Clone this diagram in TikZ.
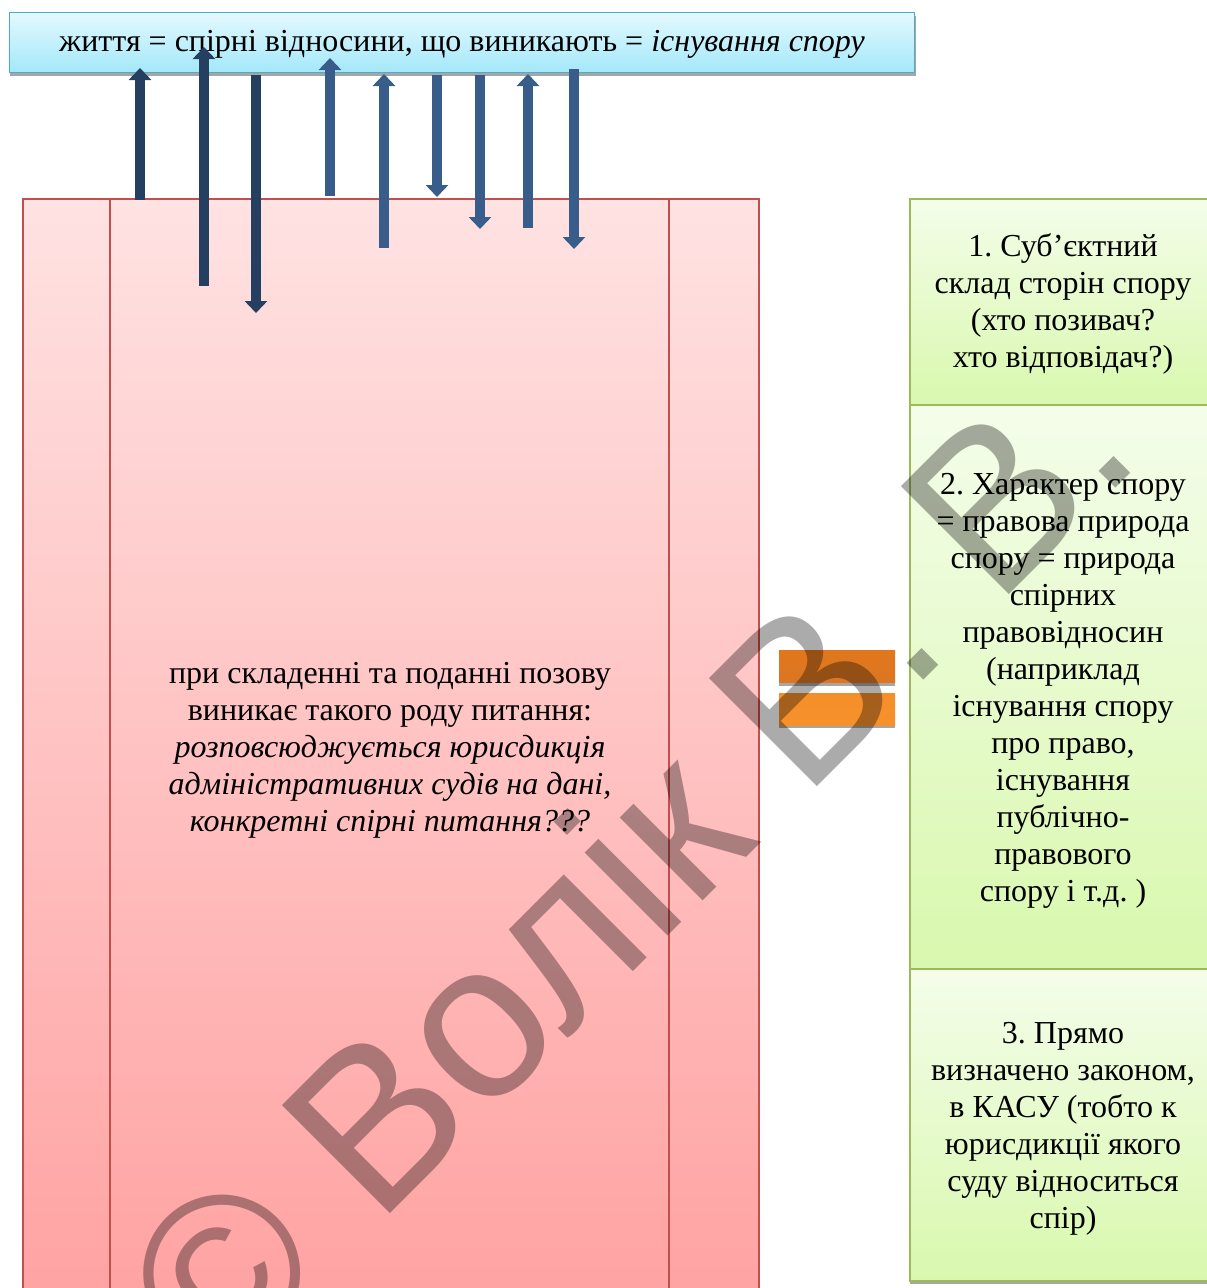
\documentclass[tikz,border=0pt]{standalone}
\usepackage{fontspec}
\setmainfont{Liberation Serif}
\newfontfamily\wmfont{Liberation Sans}
\usetikzlibrary{arrows.meta}
\frenchspacing

\definecolor{navyblue}{HTML}{243F60}
\definecolor{steelblue}{HTML}{385D8A}
\definecolor{cyantop}{HTML}{E4F9FE}
\definecolor{cyanbot}{HTML}{A3E8FA}
\definecolor{cyanline}{HTML}{4BACC6}
\definecolor{pinktop}{HTML}{FFE2E2}
\definecolor{pinkbot}{HTML}{FFA2A2}
\definecolor{pinkline}{HTML}{C0504D}
\definecolor{greentop}{HTML}{F4FDEA}
\definecolor{greenbot}{HTML}{D9F8AE}
\definecolor{greenline}{HTML}{9BBB59}
\definecolor{orangedark}{HTML}{DC7622}
\definecolor{orangelight}{HTML}{F7912B}
\definecolor{shadowgray}{HTML}{A6A6A6}

\tikzset{
  bodytext/.style={font=\fontsize{32}{37}\selectfont, align=center, inner sep=0pt},
  topbox/.style={draw=cyanline, line width=1.2pt, top color=cyantop, bottom color=cyanbot,
    anchor=north west, minimum width=905pt, minimum height=60pt, inner sep=0pt},
  pinkbox/.style={draw=pinkline, line width=1.5pt, top color=pinktop, bottom color=pinkbot,
    anchor=north west, minimum width=736pt, minimum height=1110pt, inner sep=0pt},
  greenbox/.style={draw=greenline, line width=1.6pt, top color=greentop, bottom color=greenbot,
    anchor=north west, minimum width=310pt, inner sep=0pt},
  eqbar/.style={anchor=north west, minimum width=116pt, minimum height=32pt, inner sep=0pt},
  navyarrow/.style={draw=navyblue, line width=10pt, -{Triangle[width=22pt,length=12pt]}},
  steelarrow/.style={draw=steelblue, line width=10pt, -{Triangle[width=22pt,length=12pt]}},
  watermark/.style={font=\wmfont\fontsize{222}{222}\selectfont, text=black, text opacity=0.33,
    inner sep=0pt}
}

\begin{document}
\begin{tikzpicture}[x=1pt,y=-1pt]
\useasboundingbox (0,0) rectangle (1207,1288);
\begin{scope}
\clip (0,0) rectangle (1207,1288);

% main pink panel with its two inner rules
\node[pinkbox] (pink) at (22,198) {};
\draw[pinkline, line width=1.2pt] (110,198) -- (110,1308);
\draw[pinkline, line width=1.2pt] (669,198) -- (669,1308);
\node[bodytext] (question) at (390,750) {при складенні та поданні позову\\
виникає такого роду питання:\\
\textit{розповсюджується юрисдикція}\\
\textit{адміністративних судів на дані,}\\
\textit{конкретні спірні питання???}};

% top banner
\fill[shadowgray] (10,16) rectangle (916,76);
\node[topbox] (top) at (9,12) {};
\node[bodytext] (toptext) at (462,44) {життя = спірні відносини, що виникають = \textit{існування спору}};

% column of criteria on the right
\fill[shadowgray] (910,1272) rectangle (1220,1284);
\node[greenbox, minimum height=206pt] (g1) at (909,198) {};
\node[greenbox, minimum height=564pt] (g2) at (909,404) {};
\node[greenbox, minimum height=312pt] (g3) at (909,968) {};
\node[bodytext] (g1text) at (1063,304) {1. Суб’єктний\\склад сторін спору\\(хто позивач?\\хто відповідач?)};
\node[bodytext] (g2text) at (1063,691) {2. Характер спору\\= правова природа\\спору = природа\\спірних\\правовідносин\\(наприклад\\існування спору\\про право,\\існування\\публічно-\\правового\\спору і т.д. )};
\node[bodytext] (g3text) at (1063,1129) {3. Прямо\\визначено законом,\\в КАСУ (тобто к\\юрисдикції якого\\суду відноситься\\спір)};

% equals sign between the panel and the criteria
\fill[shadowgray] (779,654) rectangle (895,686);
\fill[shadowgray] (779,697) rectangle (895,728);
\node[eqbar, top color=orangedark!85!orange, bottom color=orangedark] (eqtop) at (779,650) {};
\node[eqbar, top color=orangelight!90!orangedark, bottom color=orangelight] (eqbot) at (779,693) {};

% arrows between the banner and the panel
\coordinate (a1s) at (140,200); \coordinate (a1e) at (140,68);
\coordinate (a2s) at (204,286); \coordinate (a2e) at (204,47);
\coordinate (a3s) at (256,75);  \coordinate (a3e) at (256,313);
\coordinate (a4s) at (330,196); \coordinate (a4e) at (330,58);
\coordinate (a5s) at (384,248); \coordinate (a5e) at (384,74);
\coordinate (a6s) at (437,75);  \coordinate (a6e) at (437,197);
\coordinate (a7s) at (480,75);  \coordinate (a7e) at (480,229);
\coordinate (a8s) at (528,228); \coordinate (a8e) at (528,74);
\coordinate (a9s) at (574,69);  \coordinate (a9e) at (574,249);
\draw[navyarrow] (a1s) -- (a1e);
\draw[navyarrow] (a2s) -- (a2e);
\draw[navyarrow] (a3s) -- (a3e);
\draw[steelarrow] (a4s) -- (a4e);
\draw[steelarrow] (a5s) -- (a5e);
\draw[steelarrow] (a6s) -- (a6e);
\draw[steelarrow] (a7s) -- (a7e);
\draw[steelarrow] (a8s) -- (a8e);
\draw[steelarrow] (a9s) -- (a9e);

% author mark across the page
\node[watermark, anchor=base west, rotate=45] (mark) at (218,1386) {© Волік В. В.};
\end{scope}
\end{tikzpicture}
\end{document}
